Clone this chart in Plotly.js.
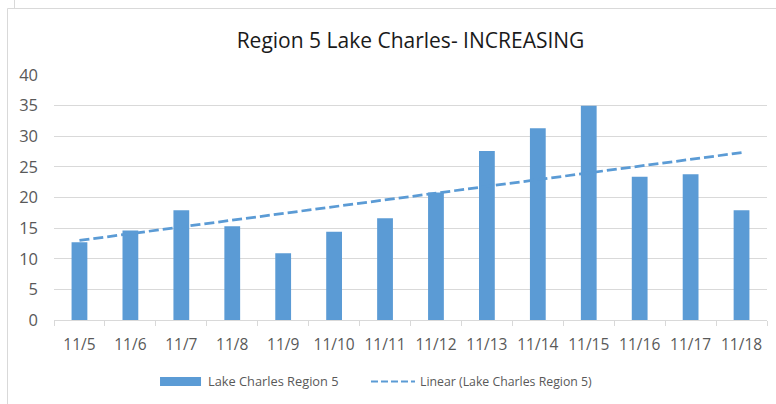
<!DOCTYPE html>
<html>
<head>
<meta charset="utf-8">
<script src="https://cdn.plot.ly/plotly-3.0.1.min.js"></script>
<style>
html,body{margin:0;padding:0;background:#fff;}
#chart{width:776px;height:404px;}
</style>
</head>
<body>
<div id="chart"></div>
<script>
const categories = ["11/5","11/6","11/7","11/8","11/9","11/10","11/11","11/12","11/13","11/14","11/15","11/16","11/17","11/18"];
const values = [12.7,14.6,17.9,15.3,10.9,14.4,16.6,20.8,27.6,31.3,35.0,23.4,23.8,17.9];
const seriesName = "Lake Charles Region 5";
const trendName = "Linear (Lake Charles Region 5)";
const titleText = "Region 5 Lake Charles- INCREASING";

// least-squares linear trendline (as the source chart's "Linear" trendline)
const n = values.length;
const xs = values.map((_, i) => i);
const mx = xs.reduce((a, b) => a + b, 0) / n;
const my = values.reduce((a, b) => a + b, 0) / n;
let sxy = 0, sxx = 0;
for (let i = 0; i < n; i++) { sxy += (xs[i] - mx) * (values[i] - my); sxx += (xs[i] - mx) ** 2; }
const slope = sxy / sxx, intercept = my - slope * mx;
const trend = xs.map(x => intercept + slope * x);

const blue = "#5b9bd5";
const grey = "#595959";
const gridc = "#d9d9d9";
const font = "'Open Sans', sans-serif";

const data = [
  {type: "bar", x: categories, y: values, name: seriesName, marker: {color: blue}, hoverinfo: "x+y", showlegend: false},
  {type: "scatter", mode: "lines", x: categories, y: trend, name: trendName,
   line: {color: blue, width: 2.75, dash: "10px,4px"}, hoverinfo: "skip", showlegend: false}
];

// custom legend (wide swatches as in the original)
const legendY = -0.249;
const layout = {
  width: 776, height: 404,
  margin: {l: 54, r: 9, t: 75, b: 84},
  paper_bgcolor: "#fff", plot_bgcolor: "#fff",
  font: {family: font, color: grey, size: 16},
  title: {text: titleText, font: {family: font, size: 21, color: "#1a1a1a"}, x: 0.5, xref: "paper", xanchor: "center", y: 0.9, yref: "container", yanchor: "middle"},
  bargap: 0.69,
  showlegend: false,
  xaxis: {type: "category", showgrid: false, showline: true, linecolor: gridc, linewidth: 1,
          ticks: "outside", tickson: "boundaries", ticklen: 5, tickcolor: gridc,
          ticklabelstandoff: 10, tickangle: 0,
          tickfont: {size: 15.5, color: grey}, fixedrange: true},
  yaxis: {range: [0, 40], dtick: 5, showgrid: true, gridcolor: gridc, gridwidth: 1,
          zeroline: false, showline: false, ticks: "", ticklen: 0, ticklabelstandoff: 15,
          tickfont: {size: 16.5, color: grey}, fixedrange: true},
  shapes: [
    {type: "rect", xref: "paper", yref: "paper", x0: -0.0652, x1: 1.03, y0: 1.2714, y1: -0.4,
     line: {color: gridc, width: 1}, fillcolor: "rgba(0,0,0,0)", layer: "below"},
    {type: "line", xref: "paper", yref: "paper", x0: -0.0554, x1: -0.0554, y0: 1.31, y1: 1.2714,
     line: {color: gridc, width: 1}},
    {type: "rect", xref: "paper", yref: "paper", x0: 0.1487, x1: 0.2062, y0: -0.2694, y1: -0.2327,
     line: {width: 0}, fillcolor: blue},
    {type: "line", xref: "paper", yref: "paper", x0: 0.4446, x1: 0.5063, y0: -0.251, y1: -0.251,
     line: {color: blue, width: 2, dash: "7px,3px"}}
  ],
  annotations: [
    {xref: "paper", yref: "paper", x: 0.2146, y: legendY, xanchor: "left", yanchor: "middle",
     text: seriesName, showarrow: false, font: {family: font, size: 12.8, color: grey}, borderpad: 0},
    {xref: "paper", yref: "paper", x: 0.5119, y: legendY, xanchor: "left", yanchor: "middle",
     text: trendName, showarrow: false, font: {family: font, size: 12.3, color: grey}, borderpad: 0}
  ]
};

Plotly.newPlot("chart", data, layout, {displayModeBar: false, staticPlot: true});
</script>
</body>
</html>
